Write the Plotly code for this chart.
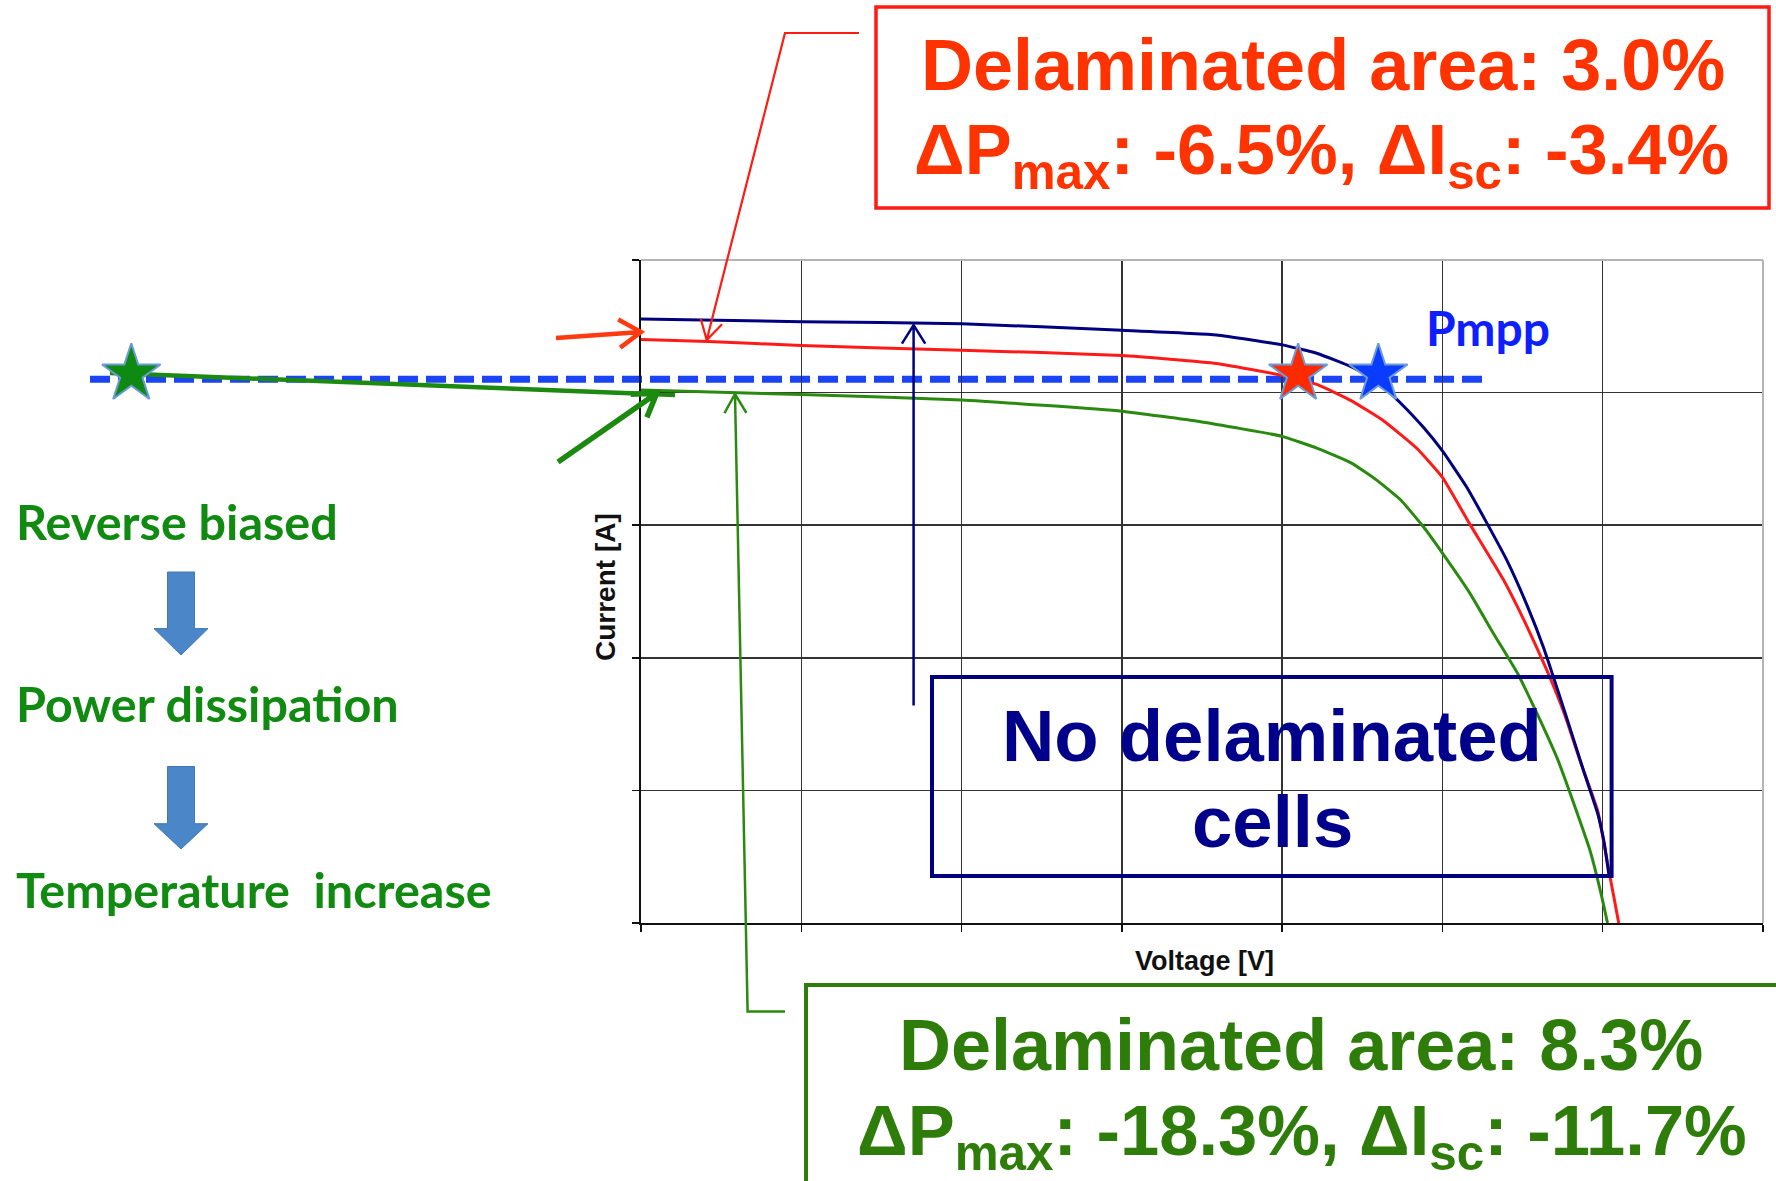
import math
import plotly.graph_objects as go

W, H = 1776, 1181

# ---------------- data ----------------
# I-V curve of the module without delaminated cells (navy)
nodelam_v = [0, 5, 10, 15, 17.95, 20, 21.1, 22.15, 22.95, 23.7, 24.4, 25, 25.75, 26.4, 27,
             27.65, 28.15, 28.9, 29.4, 29.85, 30.05, 30.2]
nodelam_i = [9.11, 9.07, 9.04, 8.94, 8.87, 8.72, 8.59, 8.39, 8.18, 7.84, 7.48, 7.12, 6.58, 6.02, 5.48,
             4.78, 4.16, 3.06, 2.30, 1.64, 1.20, 0.70]
# 3.0 % delaminated area (red)
delam3_v = [0, 2.1, 5, 10, 15, 17.95, 20, 21.1, 22.15, 23.15, 24.2, 25, 25.85, 26.9, 27.65, 28.25,
            28.8, 29.3, 29.85, 30.15, 30.5]
delam3_i = [8.80, 8.77, 8.71, 8.64, 8.56, 8.44, 8.26, 8.12, 7.88, 7.58, 7.16, 6.72, 6.02, 5.18, 4.46,
            3.82, 3.16, 2.44, 1.68, 0.90, 0.0]
# 8.3 % delaminated area (green)
delam8_v = [0, 5, 10, 15, 17.45, 20, 21.1, 22.15, 22.95, 23.7, 24.4, 25, 25.85, 26.6, 27.35, 27.95,
            28.6, 29.1, 29.6, 29.95, 30.15]
delam8_i = [8.04, 7.97, 7.89, 7.72, 7.56, 7.34, 7.16, 6.94, 6.68, 6.38, 5.98, 5.58, 4.98, 4.36, 3.76,
            3.16, 2.46, 1.80, 1.10, 0.44, 0.0]

# maximum power point markers
pmpp_current = 8.2
mpp_v = [20.5, 23.0]            # red (3.0 %), blue (no delamination)
mpp_i = [8.28, 8.28]
reverse_biased_v = [-15.9]      # green star, reverse-biased cell
reverse_biased_i = [8.28]

x_range = [0, 35]
y_range = [0, 10]

box_red = ["Delaminated area: 3.0%", "ΔP<sub>max</sub>: -6.5%, ΔI<sub>sc</sub>: -3.4%"]
box_green = ["Delaminated area: 8.3%", "ΔP<sub>max</sub>: -18.3%, ΔI<sub>sc</sub>: -11.7%"]
box_navy = ["No delaminated", "cells"]
side_text = ["Reverse biased", "Power dissipation", "Temperature  increase"]

# ---------------- layout helpers ----------------
PLOT_L, PLOT_R, PLOT_T, PLOT_B = 641, 1763, 260, 923


def px(x):
    return x / W


def py(y):
    return 1 - y / H


XDOM = [px(PLOT_L), px(PLOT_R)]
YDOM = [py(PLOT_B), py(PLOT_T)]
PX_PER_V = (PLOT_R - PLOT_L) / (x_range[1] - x_range[0])


def pt(x, y):
    return f"{px(x):.5f},{py(y):.5f}"


def vhead(tip, tail, L=22, ang=32):
    tx, ty = tip
    dx, dy = tail[0] - tx, tail[1] - ty
    n = math.hypot(dx, dy)
    ux, uy = dx / n, dy / n
    arms = []
    for s in (1, -1):
        a = math.radians(s * ang)
        rx = ux * math.cos(a) - uy * math.sin(a)
        ry = ux * math.sin(a) + uy * math.cos(a)
        arms.append((tx + L * rx, ty + L * ry))
    return f"M {pt(*arms[0])} L {pt(tx, ty)} L {pt(*arms[1])}"


def polyline(points):
    return "M " + " L ".join(pt(x, y) for x, y in points)


RED = "#ff1a12"
RED_TXT = "#ff3300"
GREEN_TXT = "#2e7d0a"
NAVY = "#00007f"
DASH_BLUE = "#1a44f5"

fig = go.Figure()

curve_style = dict(mode="lines", line_shape="spline", hoverinfo="skip")
fig.add_trace(go.Scatter(x=delam8_v, y=delam8_i, line=dict(color="#2a8a10", width=3,
                                                             smoothing=0.4), **curve_style))
fig.add_trace(go.Scatter(x=delam3_v, y=delam3_i, line=dict(color="#ff1a1a", width=3,
                                                             smoothing=0.4), **curve_style))
fig.add_trace(go.Scatter(x=nodelam_v, y=nodelam_i, line=dict(color=NAVY, width=3,
                                                               smoothing=0.4), **curve_style))

star_line = dict(color="#6b9bd6", width=2)
fig.add_trace(go.Scatter(x=mpp_v, y=mpp_i, mode="markers", hoverinfo="skip",
                         marker=dict(symbol="star", size=44, color=["#ff2a00", "#0a3cff"],
                                     line=star_line)))
# same voltage/current scale, axes extended to the left edge of the page (hidden)
fig.add_trace(go.Scatter(x=reverse_biased_v, y=reverse_biased_i, mode="markers", xaxis="x2",
                         yaxis="y2", hoverinfo="skip",
                         marker=dict(symbol="star", size=44, color="#0e8a12", line=star_line)))

shapes = []
# Pmpp dashed line (y tied to the data value)
y_pmpp = YDOM[0] + (pmpp_current - y_range[0]) / (y_range[1] - y_range[0]) * (YDOM[1] - YDOM[0])
shapes.append(dict(type="line", xref="paper", yref="paper", x0=px(90), x1=px(1484),
                   y0=y_pmpp, y1=y_pmpp, layer="below",
                   line=dict(color=DASH_BLUE, width=7, dash="20px,8px")))
# green line from reverse-biased star to the curve
shapes.append(dict(type="line", xref="paper", yref="paper", x0=px(110), y0=py(373),
                   x1=px(675), y1=py(395), layer="below", line=dict(color="#1c8a10", width=4.5)))
# light frame top/right
shapes.append(dict(type="line", xref="paper", yref="paper", x0=px(PLOT_L), x1=px(PLOT_R),
                   y0=py(PLOT_T), y1=py(PLOT_T), line=dict(color="#b4b4b4", width=2)))
shapes.append(dict(type="line", xref="paper", yref="paper", x0=px(PLOT_R), x1=px(PLOT_R),
                   y0=py(PLOT_T), y1=py(PLOT_B), line=dict(color="#b4b4b4", width=2)))

# red box + pointer
shapes.append(dict(type="rect", xref="paper", yref="paper", x0=px(876), x1=px(1769),
                   y0=py(7), y1=py(208), line=dict(color=RED, width=3.5)))
shapes.append(dict(type="path", xref="paper", yref="paper",
                   path=polyline([(859, 33), (785, 33), (706.7, 340)]) + " " +
                   vhead((706.7, 340), (785, 33), 22, 30),
                   line=dict(color=RED, width=2.2)))
# red thick arrow
shapes.append(dict(type="path", xref="paper", yref="paper",
                   path=polyline([(556, 338), (641, 332)]) + " " +
                   vhead((641, 332), (556, 338), 26, 33),
                   line=dict(color="#ff3a10", width=4.5)))

# green box + pointer
shapes.append(dict(type="rect", xref="paper", yref="paper", x0=px(806), x1=px(1800),
                   y0=py(985), y1=py(1230), line=dict(color=GREEN_TXT, width=4)))
shapes.append(dict(type="path", xref="paper", yref="paper",
                   path=polyline([(785, 1011.5), (747.6, 1011.5), (735, 394)]) + " " +
                   vhead((735, 394), (747.6, 1011.5), 22, 30),
                   line=dict(color="#2a8a10", width=2.5)))
# green thick arrow
shapes.append(dict(type="path", xref="paper", yref="paper",
                   path=polyline([(558, 462), (656.7, 393.3)]) + " " +
                   vhead((656.7, 393.3), (558, 462), 26, 33),
                   line=dict(color="#1c8a10", width=5.5)))

# navy arrow + box
shapes.append(dict(type="path", xref="paper", yref="paper",
                   path=polyline([(913.6, 705.6), (913.6, 325)]) + " " +
                   vhead((913.6, 325), (913.6, 705.6), 22, 32),
                   line=dict(color=NAVY, width=2.5)))
shapes.append(dict(type="rect", xref="paper", yref="paper", x0=px(932), x1=px(1611.6),
                   y0=py(677), y1=py(876), line=dict(color=NAVY, width=4)))


# blue block arrows on the left
def block_arrow(top, head, tip, cx=181, shaft=13.5, half=27):
    p = [(cx - shaft, top), (cx + shaft, top), (cx + shaft, head), (cx + half, head), (cx, tip),
         (cx - half, head), (cx - shaft, head)]
    return polyline(p) + " Z"


for top, head, tip in [(572, 628.6, 655), (766.5, 823.7, 849)]:
    shapes.append(dict(type="path", xref="paper", yref="paper", path=block_arrow(top, head, tip),
                       fillcolor="#4a86c8", line=dict(color="#3f78b8", width=1)))

ann = []
LS = "Liberation Sans, Arial, sans-serif"


def text(t, x, y, size, color, family=LS, xanchor="center", angle=0):
    ann.append(dict(text=t, x=px(x), y=py(y), xref="paper", yref="paper", showarrow=False,
                    xanchor=xanchor, yanchor="middle", textangle=angle,
                    font=dict(family=family, size=size, color=color, weight="bold")))


text(box_red[0], 1323, 65, 72, RED_TXT)
text(box_red[1], 1321, 155, 70.5, RED_TXT)
text(box_green[0], 1301, 1045, 72, GREEN_TXT)
text(box_green[1], 1302, 1135, 70.5, GREEN_TXT)
text(box_navy[0], 1272, 735, 72.5, "#00008b")
text(box_navy[1], 1272, 821, 72.5, "#00008b")
text("Pmpp", 1424, 327, 48, "#0d1eff", family="Lato, sans-serif", xanchor="left")
text("Voltage [V]", 1204, 961, 27, "#111111")
text("Current [A]", 605, 587, 28, "#111111", angle=-90)
for t, yc in zip(side_text, [521, 703, 889]):
    text(t, 14, yc, 48.5, "#108a10", family="Lato, sans-serif", xanchor="left")

axis_common = dict(showgrid=True, gridcolor="#333333", gridwidth=1.5, showline=True,
                   linecolor="#111111", linewidth=2, ticks="outside", ticklen=7,
                   tickcolor="#111111", tickwidth=1.5, showticklabels=False, zeroline=False,
                   fixedrange=True, automargin=False)

fig.update_layout(
    width=W, height=H, margin=dict(l=0, r=0, t=0, b=0), autosize=False,
    paper_bgcolor="white", plot_bgcolor="rgba(0,0,0,0)", showlegend=False,
    xaxis=dict(domain=XDOM, range=x_range, dtick=5, tick0=0, **axis_common),
    yaxis=dict(domain=YDOM, range=y_range, dtick=2, tick0=0, **axis_common),
    xaxis2=dict(domain=[0, XDOM[1]], range=[x_range[0] - PLOT_L / PX_PER_V, x_range[1]],
                visible=False, showgrid=False, fixedrange=True, anchor="y2", automargin=False),
    yaxis2=dict(domain=YDOM, range=y_range, visible=False, showgrid=False, fixedrange=True,
                anchor="x2", automargin=False),
    shapes=shapes, annotations=ann,
)

fig.write_html("out.html", config={"displayModeBar": False, "staticPlot": True},
               post_script="document.body.style.margin='0';document.body.style.padding='0';"
                           "document.body.style.overflow='hidden';")
